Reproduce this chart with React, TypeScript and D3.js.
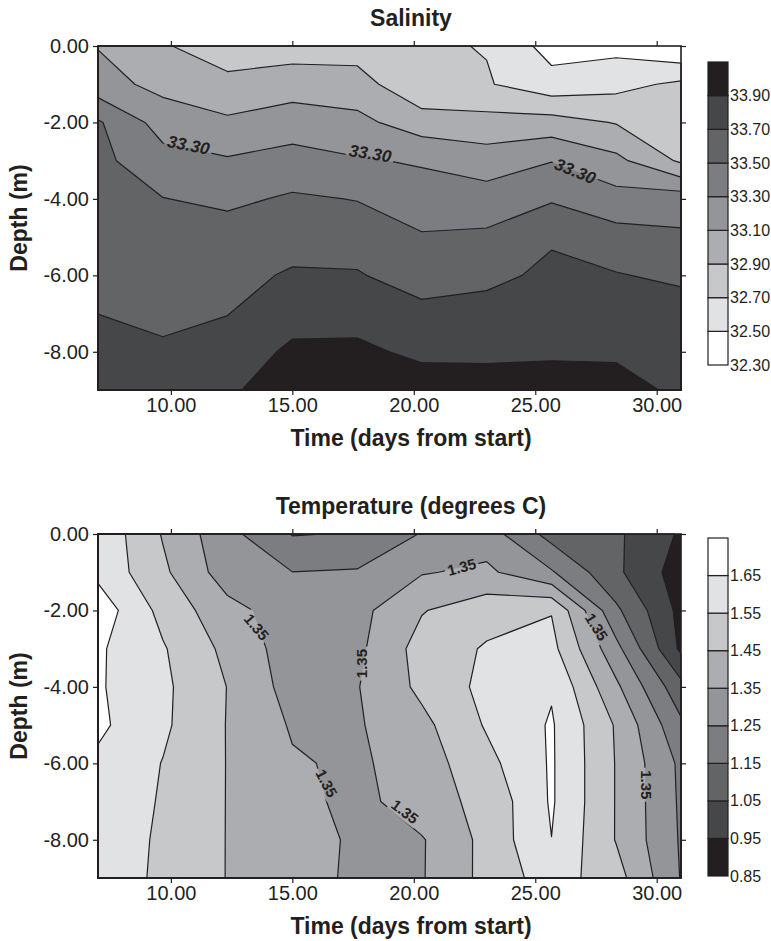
import React, { useEffect, useRef } from 'react';
import * as d3 from 'd3';

// sampling grid: columns are days, rows are depths (m)
const days = [7, 9.67, 12.33, 15, 17.67, 20.33, 23, 25.67, 28.33, 31];
const depths = [0, -1, -2, -3, -4, -5, -6, -7, -8, -9];

// salinity, one row per depth
const salinity = [
  [33.091, 32.92, 32.785, 32.803, 32.81, 32.73, 32.69, 32.423, 32.439, 32.304],
  [33.179, 33.04, 32.957, 33.009, 32.984, 32.733, 32.717, 32.574, 32.637, 32.739],
  [33.524, 33.215, 33.133, 33.2, 33.154, 32.994, 32.971, 32.98, 32.889, 32.8],
  [33.55, 33.373, 33.32, 33.376, 33.318, 33.28, 33.197, 33.293, 33.152, 32.868],
  [33.58, 33.505, 33.458, 33.526, 33.493, 33.39, 33.388, 33.48, 33.373, 33.408],
  [33.62, 33.56, 33.59, 33.623, 33.606, 33.518, 33.535, 33.67, 33.575, 33.529],
  [33.66, 33.614, 33.64, 33.722, 33.717, 33.6, 33.63, 33.758, 33.712, 33.66],
  [33.699, 33.669, 33.695, 33.83, 33.83, 33.759, 33.805, 33.8, 33.78, 33.793],
  [33.76, 33.72, 33.79, 33.935, 33.94, 33.86, 33.88, 33.86, 33.87, 33.83],
  [33.82, 33.78, 33.88, 33.97, 33.97, 34.0, 33.945, 34.03, 33.977, 33.86],
];

// temperature (degrees C), one row per depth
const temperature = [
  [1.628, 1.443, 1.281, 1.145, 1.155, 1.256, 1.298, 1.113, 1.067, 0.937],
  [1.625, 1.469, 1.3, 1.251, 1.259, 1.343, 1.37, 1.26, 1.07, 0.9],
  [1.71, 1.519, 1.382, 1.3, 1.319, 1.444, 1.51, 1.545, 1.17, 0.92],
  [1.664, 1.559, 1.424, 1.3, 1.327, 1.49, 1.56, 1.58, 1.28, 0.93],
  [1.661, 1.57, 1.448, 1.31, 1.345, 1.473, 1.578, 1.64, 1.37, 1.08],
  [1.67, 1.567, 1.446, 1.34, 1.34, 1.423, 1.56, 1.66, 1.44, 1.17],
  [1.63, 1.547, 1.447, 1.36, 1.333, 1.401, 1.52, 1.661, 1.445, 1.23],
  [1.633, 1.539, 1.447, 1.389, 1.315, 1.411, 1.476, 1.661, 1.445, 1.235],
  [1.621, 1.532, 1.447, 1.393, 1.335, 1.342, 1.48, 1.649, 1.445, 1.24],
  [1.614, 1.529, 1.447, 1.396, 1.33, 1.343, 1.48, 1.6, 1.49, 1.245],
];

const salinityLevels = [32.3, 32.5, 32.7, 32.9, 33.1, 33.3, 33.5, 33.7, 33.9];
const salinityColors = ['#ffffff', '#e1e2e4', '#c7c8ca', '#abadb0', '#939598', '#7b7d80', '#636466', '#454749', '#231f20'];
const temperatureLevels = [0.85, 0.95, 1.05, 1.15, 1.25, 1.35, 1.45, 1.55, 1.65];
const temperatureColors = ['#231f20', '#454749', '#636466', '#7b7d80', '#939598', '#abadb0', '#c7c8ca', '#e1e2e4', '#ffffff'];

const xTicks = [10, 15, 20, 25, 30];
const yTicks = [0, -2, -4, -6, -8];

// inline contour labels (day, depth, rotation in degrees)
const salinityLabels = [
  { day: 10.72, depth: -2.6, angle: 11 },
  { day: 18.2, depth: -2.82, angle: 9 },
  { day: 26.64, depth: -3.28, angle: 22 },
];
const temperatureLabels = [
  { day: 13.53, depth: -2.43, angle: 50 },
  { day: 17.86, depth: -3.39, angle: -90 },
  { day: 16.41, depth: -6.52, angle: 62 },
  { day: 19.64, depth: -7.26, angle: 37 },
  { day: 21.97, depth: -0.86, angle: -15 },
  { day: 27.53, depth: -2.43, angle: 58 },
  { day: 29.6, depth: -6.56, angle: 90 },
];

const FONT = 'Liberation Sans, Arial, Helvetica, sans-serif';
const INK = '#231f20';
const LEFT = 98;
const RIGHT = 681;
const PLOT_H = 344;

function drawPanel(root, o) {
  const g = root.append('g');
  const x = d3.scaleLinear().domain([days[0], days[days.length - 1]]).range([LEFT, RIGHT]);
  const y = d3.scaleLinear().domain([depths[0], depths[depths.length - 1]]).range([o.top, o.top + PLOT_H]);

  const n = days.length;
  const m = depths.length;
  const colToDay = d3.scaleLinear().domain(d3.range(n)).range(days);
  const rowToDepth = d3.scaleLinear().domain(d3.range(m)).range(depths);
  const gx = (v) => x(colToDay(Math.max(0, Math.min(n - 1, v - 0.5))));
  const gy = (v) => y(rowToDepth(Math.max(0, Math.min(m - 1, v - 0.5))));
  const path = d3.geoPath(d3.geoTransform({
    point(px, py) { this.stream.point(gx(px), gy(py)); },
  }));

  const bands = d3.contours().size([n, m]).thresholds(o.levels.slice(1))(o.grid.flat());

  g.append('rect')
    .attr('x', LEFT).attr('y', o.top).attr('width', RIGHT - LEFT).attr('height', PLOT_H)
    .attr('fill', o.colors[0]);

  g.append('g').selectAll('path').data(bands).join('path')
    .attr('d', path)
    .attr('fill', (d, i) => o.colors[i + 1])
    .attr('fill-rule', 'evenodd');

  // mask out the contour lines under the labels
  const mask = root.append('mask').attr('id', o.id + '-mask');
  mask.append('rect').attr('x', 0).attr('y', 0).attr('width', 771).attr('height', 941).attr('fill', 'white');
  mask.selectAll('rect.hole').data(o.labels).join('rect')
    .attr('class', 'hole')
    .attr('x', -o.labelW / 2).attr('y', -o.labelSize / 2 - 1)
    .attr('width', o.labelW).attr('height', o.labelSize + 2)
    .attr('fill', 'black')
    .attr('transform', (d) => `translate(${x(d.day)},${y(d.depth)}) rotate(${d.angle})`);

  g.append('g').attr('mask', `url(#${o.id}-mask)`)
    .selectAll('path').data(bands).join('path')
    .attr('d', path)
    .attr('fill', 'none')
    .attr('stroke', INK)
    .attr('stroke-width', 1.2)
    .attr('stroke-linejoin', 'round');

  g.append('g').selectAll('text').data(o.labels).join('text')
    .attr('transform', (d) => `translate(${x(d.day)},${y(d.depth)}) rotate(${d.angle})`)
    .attr('text-anchor', 'middle')
    .attr('dominant-baseline', 'central')
    .attr('font-family', FONT)
    .attr('font-weight', 'bold')
    .attr('font-style', o.labelItalic ? 'italic' : 'normal')
    .attr('font-size', o.labelSize)
    .attr('fill', INK)
    .text(o.labelText);

  const fmt = (d) => (+d).toFixed(2);
  const styleAxis = (sel) => {
    sel.select('.domain').remove();
    sel.selectAll('line').attr('stroke', INK).attr('stroke-width', 1.2);
    sel.selectAll('text').attr('font-family', FONT).attr('font-size', 20).attr('fill', INK);
  };
  g.append('g').attr('transform', `translate(0,${o.top + PLOT_H})`)
    .call(d3.axisBottom(x).tickValues(xTicks).tickFormat(fmt).tickSize(5).tickPadding(3)).call(styleAxis);
  g.append('g').attr('transform', `translate(0,${o.top})`)
    .call(d3.axisTop(x).tickValues(xTicks).tickFormat(() => '').tickSize(5)).call(styleAxis);
  g.append('g').attr('transform', `translate(${LEFT},0)`)
    .call(d3.axisLeft(y).tickValues(yTicks).tickFormat(fmt).tickSize(5).tickPadding(4)).call(styleAxis);
  g.append('g').attr('transform', `translate(${RIGHT},0)`)
    .call(d3.axisRight(y).tickValues(yTicks).tickFormat(() => '').tickSize(5)).call(styleAxis);

  g.append('rect')
    .attr('x', LEFT).attr('y', o.top).attr('width', RIGHT - LEFT).attr('height', PLOT_H)
    .attr('fill', 'none').attr('stroke', INK).attr('stroke-width', 1.6);

  // titles
  g.append('text').attr('x', 411).attr('y', o.top - 20)
    .attr('text-anchor', 'middle').attr('font-family', FONT).attr('font-weight', 'bold')
    .attr('font-size', 23).attr('fill', INK).text(o.title);
  g.append('text').attr('x', 411).attr('y', o.top + PLOT_H + 56)
    .attr('text-anchor', 'middle').attr('font-family', FONT).attr('font-weight', 'bold')
    .attr('font-size', 23).attr('fill', INK).text('Time (days from start)');
  g.append('text')
    .attr('transform', `translate(27,${o.top + PLOT_H / 2}) rotate(-90)`)
    .attr('text-anchor', 'middle').attr('font-family', FONT).attr('font-weight', 'bold')
    .attr('font-size', 23).attr('fill', INK).text('Depth (m)');

  // colour bar
  const step = o.levels[1] - o.levels[0];
  const bar = d3.scaleLinear()
    .domain([o.levels[0], o.levels[o.levels.length - 1] + step])
    .range([o.barBottom, o.barTop]);
  const cb = g.append('g');
  cb.selectAll('rect').data(o.levels).join('rect')
    .attr('x', 708).attr('width', 20)
    .attr('y', (d) => bar(d + step))
    .attr('height', (d) => bar(d) - bar(d + step))
    .attr('fill', (d, i) => o.colors[i])
    .attr('stroke', INK).attr('stroke-width', 1.2);
  cb.selectAll('text').data(o.levels).join('text')
    .attr('x', 730).attr('y', (d) => bar(d))
    .attr('dominant-baseline', 'central')
    .attr('font-family', FONT).attr('font-size', 16).attr('fill', INK)
    .text(fmt);
}

export default function App() {
  const ref = useRef(null);
  useEffect(() => {
    const svg = d3.select(ref.current);
    svg.selectAll('*').remove();
    drawPanel(svg, {
      id: 'sal', top: 46, title: 'Salinity',
      grid: salinity, levels: salinityLevels, colors: salinityColors,
      labels: salinityLabels, labelText: '33.30', labelSize: 17, labelW: 48, labelItalic: true,
      barTop: 62, barBottom: 365,
    });
    drawPanel(svg, {
      id: 'tmp', top: 534, title: 'Temperature (degrees C)',
      grid: temperature, levels: temperatureLevels, colors: temperatureColors,
      labels: temperatureLabels, labelText: '1.35', labelSize: 15, labelW: 34, labelItalic: false,
      barTop: 538, barBottom: 876,
    });
  }, []);
  return (
    <svg ref={ref} width={771} height={941}
      style={{ position: 'absolute', left: 0, top: 0, background: '#fff' }} />
  );
}
